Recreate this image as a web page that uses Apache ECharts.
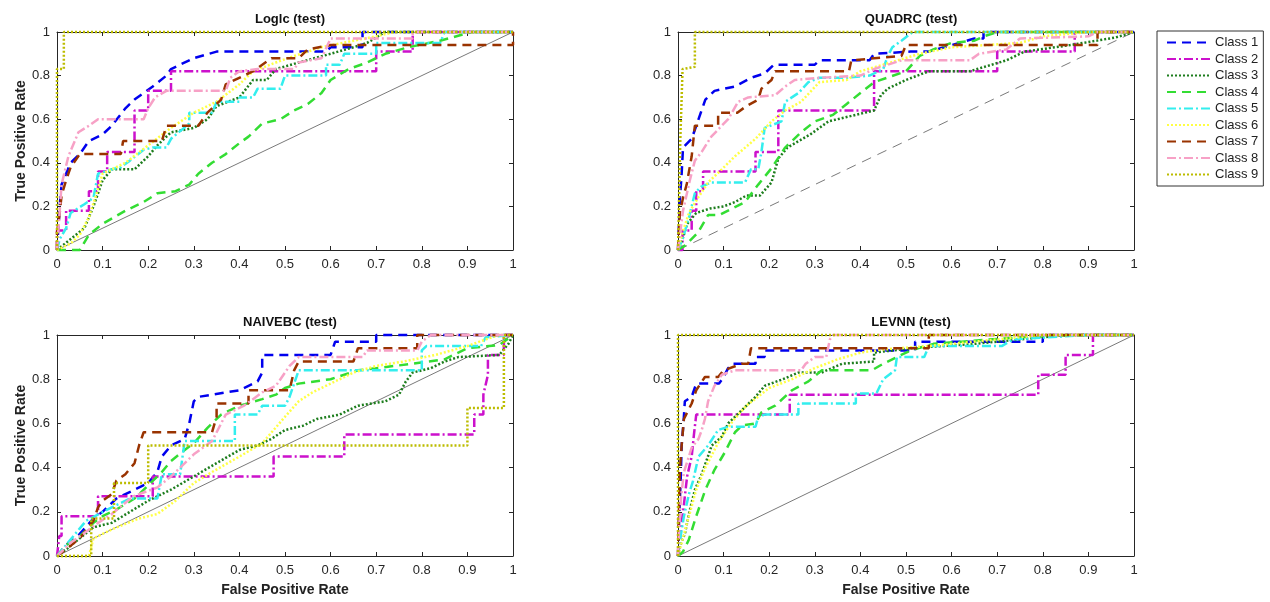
<!DOCTYPE html>
<html>
<head>
<meta charset="utf-8">
<script src="https://cdn.jsdelivr.net/npm/echarts@6/dist/echarts.min.js"></script>
<style>
  html, body { margin: 0; padding: 0; background: #fff; }
  #rocChart { width: 1270px; height: 602px; }
</style>
</head>
<body>
<div id="rocChart"></div>
<script>
// ROC curves: [false positive rate, true positive rate]
var classNames = ['Class 1', 'Class 2', 'Class 3', 'Class 4', 'Class 5', 'Class 6', 'Class 7', 'Class 8', 'Class 9'];
var plotTitles = ['Loglc (test)', 'QUADRC (test)', 'NAIVEBC (test)', 'LEVNN (test)'];
var xTicks = [0, 0.1, 0.2, 0.3, 0.4, 0.5, 0.6, 0.7, 0.8, 0.9, 1];
var yTicks = [0, 0.2, 0.4, 0.6, 0.8, 1];
var chanceLine = [[0, 0], [1, 1]];

var loglcCurves = [
    [[0,0],[0.003,0.1],[0.006,0.2],[0.01,0.3],[0.02,0.35],[0.03,0.4],[0.05,0.44],[0.07,0.5],[0.1,0.53],[0.12,0.57],[0.15,0.65],[0.17,0.69],[0.19,0.72],[0.21,0.75],[0.24,0.8],[0.25,0.83],[0.27,0.85],[0.3,0.88],[0.35,0.91],[0.59,0.91],[0.6,0.93],[0.67,0.93],[0.67,1],[1,1]],
    [[0,0],[0,0.09],[0.02,0.09],[0.02,0.18],[0.07,0.18],[0.07,0.27],[0.09,0.27],[0.09,0.36],[0.11,0.36],[0.11,0.45],[0.17,0.45],[0.17,0.64],[0.2,0.64],[0.2,0.73],[0.25,0.73],[0.25,0.82],[0.7,0.82],[0.7,0.91],[0.78,0.91],[0.78,1],[1,1]],
    [[0,0],[0.03,0.05],[0.06,0.1],[0.08,0.2],[0.1,0.32],[0.12,0.37],[0.17,0.37],[0.2,0.43],[0.22,0.48],[0.25,0.54],[0.3,0.56],[0.33,0.6],[0.35,0.66],[0.4,0.7],[0.43,0.78],[0.46,0.78],[0.48,0.83],[0.53,0.86],[0.6,0.9],[0.65,0.93],[0.68,0.95],[0.72,1],[1,1]],
    [[0,0],[0.05,0],[0.07,0.07],[0.1,0.12],[0.15,0.18],[0.19,0.22],[0.22,0.26],[0.26,0.27],[0.29,0.3],[0.31,0.35],[0.34,0.4],[0.37,0.44],[0.4,0.49],[0.42,0.52],[0.45,0.58],[0.49,0.6],[0.52,0.64],[0.55,0.67],[0.58,0.72],[0.6,0.78],[0.64,0.83],[0.68,0.86],[0.72,0.9],[0.77,0.93],[0.84,0.96],[0.91,1],[1,1]],
    [[0,0],[0.006,0.05],[0.02,0.1],[0.03,0.17],[0.06,0.21],[0.08,0.24],[0.09,0.35],[0.12,0.37],[0.14,0.38],[0.16,0.41],[0.19,0.46],[0.21,0.47],[0.24,0.47],[0.25,0.51],[0.29,0.58],[0.29,0.63],[0.34,0.63],[0.35,0.68],[0.4,0.68],[0.4,0.7],[0.43,0.7],[0.44,0.74],[0.49,0.74],[0.5,0.8],[0.59,0.8],[0.59,0.85],[0.62,0.85],[0.63,0.9],[0.7,0.9],[0.7,0.95],[0.84,0.95],[0.85,1],[1,1]],
    [[0,0],[0.03,0.03],[0.05,0.07],[0.07,0.15],[0.09,0.28],[0.1,0.35],[0.15,0.4],[0.2,0.48],[0.25,0.56],[0.3,0.63],[0.35,0.68],[0.4,0.76],[0.43,0.82],[0.48,0.86],[0.52,0.89],[0.58,0.93],[0.65,0.96],[0.7,0.98],[0.74,1],[1,1]],
    [[0,0],[0,0.08],[0.006,0.17],[0.01,0.25],[0.02,0.32],[0.03,0.38],[0.05,0.44],[0.14,0.44],[0.145,0.5],[0.23,0.5],[0.24,0.57],[0.31,0.57],[0.33,0.63],[0.36,0.69],[0.37,0.76],[0.43,0.82],[0.47,0.88],[0.53,0.88],[0.55,0.92],[0.6,0.94],[1,0.94],[1,1]],
    [[0,0],[0.005,0.15],[0.01,0.3],[0.025,0.43],[0.047,0.54],[0.07,0.57],[0.09,0.6],[0.19,0.6],[0.2,0.65],[0.215,0.7],[0.24,0.73],[0.37,0.73],[0.38,0.79],[0.4,0.82],[0.44,0.83],[0.52,0.83],[0.53,0.86],[0.58,0.88],[0.6,0.97],[0.78,0.97],[0.78,1],[1,1]],
    [[0,0],[0,0.83],[0.015,0.83],[0.015,1],[1,1]]
];

var quadrcCurves = [
    [[0,0],[0.004,0.23],[0.008,0.35],[0.011,0.47],[0.03,0.51],[0.04,0.57],[0.05,0.63],[0.06,0.69],[0.08,0.73],[0.125,0.75],[0.16,0.79],[0.19,0.81],[0.21,0.85],[0.3,0.85],[0.31,0.87],[0.42,0.87],[0.43,0.9],[0.51,0.91],[0.55,0.91],[0.6,0.94],[0.65,0.97],[0.67,0.97],[0.67,1],[1,1]],
    [[0,0],[0.01,0],[0.01,0.09],[0.03,0.09],[0.03,0.18],[0.04,0.18],[0.04,0.27],[0.055,0.27],[0.055,0.36],[0.17,0.36],[0.17,0.45],[0.22,0.45],[0.22,0.64],[0.43,0.64],[0.43,0.82],[0.7,0.82],[0.7,0.91],[0.87,0.91],[0.87,1],[1,1]],
    [[0,0],[0.01,0.05],[0.02,0.12],[0.04,0.17],[0.07,0.19],[0.1,0.2],[0.125,0.22],[0.15,0.25],[0.18,0.25],[0.205,0.31],[0.22,0.42],[0.24,0.47],[0.29,0.53],[0.33,0.59],[0.37,0.61],[0.43,0.64],[0.445,0.71],[0.46,0.74],[0.5,0.78],[0.55,0.82],[0.64,0.82],[0.72,0.87],[0.76,0.91],[0.86,0.94],[0.96,0.975],[1,1]],
    [[0,0],[0.015,0.02],[0.044,0.08],[0.066,0.16],[0.09,0.16],[0.147,0.22],[0.176,0.3],[0.205,0.375],[0.235,0.47],[0.27,0.54],[0.3,0.59],[0.34,0.62],[0.37,0.67],[0.4,0.72],[0.43,0.77],[0.5,0.82],[0.53,0.89],[0.56,0.92],[0.6,0.95],[0.65,0.96],[0.67,0.98],[0.7,1],[1,1]],
    [[0,0],[0.01,0.05],[0.024,0.15],[0.037,0.26],[0.05,0.29],[0.073,0.31],[0.147,0.31],[0.16,0.37],[0.176,0.37],[0.183,0.45],[0.19,0.56],[0.227,0.59],[0.235,0.68],[0.264,0.72],[0.286,0.77],[0.31,0.79],[0.37,0.79],[0.42,0.8],[0.45,0.83],[0.46,0.89],[0.47,0.93],[0.49,0.96],[0.515,1],[1,1]],
    [[0,0],[0.01,0.08],[0.024,0.17],[0.044,0.24],[0.066,0.31],[0.096,0.37],[0.125,0.43],[0.17,0.51],[0.205,0.59],[0.235,0.64],[0.27,0.68],[0.31,0.77],[0.37,0.78],[0.4,0.82],[0.45,0.85],[0.53,0.9],[0.6,0.93],[0.75,0.95],[0.8,0.98],[0.9,1],[1,1]],
    [[0,0],[0.004,0.17],[0.011,0.24],[0.019,0.3],[0.03,0.43],[0.037,0.57],[0.088,0.57],[0.088,0.63],[0.13,0.63],[0.15,0.66],[0.176,0.69],[0.183,0.74],[0.205,0.78],[0.213,0.82],[0.375,0.82],[0.38,0.87],[0.49,0.89],[0.5,0.94],[0.92,0.94],[0.92,1],[1,1]],
    [[0,0],[0.011,0.18],[0.026,0.32],[0.037,0.41],[0.052,0.45],[0.073,0.52],[0.096,0.57],[0.11,0.6],[0.132,0.68],[0.154,0.7],[0.213,0.71],[0.235,0.75],[0.256,0.78],[0.31,0.79],[0.4,0.8],[0.43,0.83],[0.49,0.87],[0.64,0.87],[0.66,0.9],[0.72,0.92],[0.75,0.97],[0.9,0.98],[0.92,1],[1,1]],
    [[0,0],[0.005,0.5],[0.01,0.83],[0.037,0.84],[0.037,1],[1,1]]
];

var naivebcCurves = [
    [[0,0],[0.02,0.05],[0.05,0.1],[0.08,0.17],[0.1,0.2],[0.13,0.26],[0.17,0.3],[0.2,0.33],[0.22,0.38],[0.23,0.45],[0.25,0.5],[0.28,0.53],[0.29,0.6],[0.3,0.7],[0.31,0.72],[0.4,0.75],[0.44,0.79],[0.45,0.83],[0.45,0.91],[0.6,0.91],[0.61,0.97],[0.7,0.97],[0.7,1],[1,1]],
    [[0,0],[0.005,0.09],[0.01,0.09],[0.01,0.18],[0.09,0.18],[0.09,0.27],[0.21,0.27],[0.21,0.36],[0.475,0.36],[0.475,0.45],[0.63,0.45],[0.63,0.55],[0.915,0.55],[0.915,0.64],[0.935,0.64],[0.935,0.73],[0.945,0.82],[0.945,0.91],[0.98,0.91],[0.98,1],[1,1]],
    [[0,0],[0.02,0.03],[0.05,0.08],[0.08,0.13],[0.12,0.15],[0.16,0.2],[0.2,0.25],[0.25,0.3],[0.3,0.36],[0.35,0.42],[0.4,0.48],[0.44,0.5],[0.47,0.53],[0.5,0.57],[0.54,0.59],[0.57,0.62],[0.62,0.64],[0.66,0.68],[0.72,0.7],[0.75,0.73],[0.765,0.79],[0.78,0.83],[0.82,0.85],[0.85,0.88],[0.88,0.9],[0.97,0.91],[0.99,0.96],[1,1]],
    [[0,0],[0.02,0.05],[0.05,0.09],[0.08,0.15],[0.1,0.18],[0.13,0.21],[0.17,0.26],[0.2,0.32],[0.23,0.38],[0.25,0.43],[0.28,0.48],[0.3,0.51],[0.33,0.58],[0.36,0.64],[0.4,0.68],[0.45,0.71],[0.48,0.73],[0.5,0.76],[0.53,0.78],[0.6,0.8],[0.66,0.84],[0.7,0.85],[0.78,0.87],[0.85,0.89],[0.9,0.94],[0.97,0.955],[1,1]],
    [[0,0],[0.02,0.05],[0.04,0.1],[0.064,0.16],[0.12,0.22],[0.16,0.26],[0.22,0.26],[0.23,0.37],[0.27,0.37],[0.28,0.52],[0.39,0.52],[0.39,0.64],[0.44,0.64],[0.45,0.68],[0.5,0.68],[0.51,0.72],[0.53,0.84],[0.8,0.84],[0.8,0.93],[0.81,0.95],[0.93,0.95],[0.94,0.99],[1,1]],
    [[0,0],[0.07,0],[0.08,0.08],[0.12,0.12],[0.18,0.17],[0.22,0.19],[0.26,0.25],[0.3,0.33],[0.34,0.38],[0.4,0.45],[0.45,0.51],[0.5,0.63],[0.53,0.7],[0.56,0.74],[0.6,0.78],[0.65,0.83],[0.7,0.86],[0.76,0.88],[0.83,0.91],[0.9,0.95],[0.94,0.98],[0.97,1],[1,1]],
    [[0,0],[0.02,0.03],[0.05,0.08],[0.08,0.16],[0.09,0.22],[0.1,0.25],[0.12,0.28],[0.13,0.34],[0.15,0.37],[0.17,0.42],[0.18,0.5],[0.19,0.56],[0.34,0.56],[0.35,0.63],[0.35,0.69],[0.42,0.69],[0.42,0.75],[0.51,0.75],[0.52,0.84],[0.53,0.88],[0.65,0.88],[0.66,0.94],[0.79,0.94],[0.79,1],[1,1]],
    [[0,0],[0.03,0.06],[0.057,0.1],[0.09,0.15],[0.12,0.19],[0.167,0.27],[0.22,0.31],[0.25,0.36],[0.27,0.4],[0.3,0.46],[0.34,0.52],[0.37,0.64],[0.41,0.68],[0.45,0.74],[0.48,0.77],[0.51,0.86],[0.53,0.9],[0.67,0.9],[0.68,0.93],[0.79,0.93],[0.8,0.97],[0.82,1],[1,1]],
    [[0,0],[0.075,0],[0.075,0.17],[0.125,0.17],[0.125,0.33],[0.2,0.33],[0.2,0.5],[0.9,0.5],[0.9,0.67],[0.98,0.67],[0.98,1],[1,1]]
];

var levnnCurves = [
    [[0,0],[0.003,0.2],[0.006,0.35],[0.008,0.5],[0.012,0.6],[0.015,0.7],[0.03,0.72],[0.04,0.78],[0.09,0.78],[0.1,0.81],[0.11,0.85],[0.12,0.87],[0.17,0.87],[0.17,0.9],[0.19,0.9],[0.19,0.93],[0.52,0.93],[0.52,0.97],[0.8,0.97],[0.8,1],[1,1]],
    [[0,0],[0.005,0.09],[0.01,0.18],[0.015,0.27],[0.02,0.36],[0.03,0.45],[0.035,0.55],[0.04,0.64],[0.245,0.64],[0.245,0.73],[0.79,0.73],[0.79,0.82],[0.85,0.82],[0.85,0.91],[0.91,0.91],[0.91,1],[1,1]],
    [[0,0],[0.005,0.05],[0.015,0.1],[0.025,0.2],[0.037,0.3],[0.052,0.37],[0.074,0.5],[0.096,0.54],[0.11,0.6],[0.14,0.66],[0.17,0.72],[0.19,0.77],[0.23,0.8],[0.264,0.83],[0.315,0.83],[0.36,0.87],[0.43,0.88],[0.43,0.92],[0.51,0.94],[0.65,0.96],[0.75,0.98],[0.85,1],[1,1]],
    [[0,0],[0.011,0.02],[0.023,0.07],[0.04,0.18],[0.06,0.3],[0.08,0.39],[0.103,0.47],[0.125,0.56],[0.14,0.59],[0.17,0.6],[0.183,0.65],[0.213,0.68],[0.25,0.75],[0.286,0.79],[0.315,0.84],[0.425,0.84],[0.45,0.87],[0.51,0.93],[0.56,0.96],[0.75,0.99],[0.9,1],[1,1]],
    [[0,0],[0.005,0.08],[0.013,0.18],[0.024,0.28],[0.033,0.34],[0.045,0.45],[0.066,0.5],[0.088,0.57],[0.11,0.585],[0.17,0.585],[0.176,0.63],[0.19,0.64],[0.264,0.64],[0.264,0.69],[0.39,0.69],[0.39,0.735],[0.435,0.735],[0.45,0.8],[0.476,0.84],[0.48,0.9],[0.54,0.9],[0.55,0.95],[0.71,0.95],[0.735,0.98],[0.9,1],[1,1]],
    [[0,0],[0.02,0.15],[0.04,0.3],[0.06,0.4],[0.09,0.52],[0.12,0.61],[0.15,0.68],[0.2,0.76],[0.25,0.8],[0.3,0.85],[0.35,0.89],[0.4,0.92],[0.45,0.935],[0.55,0.95],[0.7,0.98],[0.8,1],[1,1]],
    [[0,0],[0.002,0.2],[0.004,0.39],[0.008,0.5],[0.013,0.62],[0.03,0.69],[0.04,0.75],[0.059,0.81],[0.088,0.81],[0.1,0.84],[0.14,0.87],[0.154,0.87],[0.16,0.94],[0.55,0.94],[0.55,1],[1,1]],
    [[0,0],[0.003,0.15],[0.007,0.27],[0.013,0.38],[0.03,0.49],[0.045,0.53],[0.052,0.57],[0.059,0.62],[0.066,0.7],[0.08,0.77],[0.096,0.82],[0.11,0.83],[0.125,0.84],[0.27,0.84],[0.28,0.87],[0.3,0.9],[0.325,0.9],[0.333,0.98],[0.34,1],[1,1]],
    [[0,0],[0,1],[1,1]]
];

var allCurves = [loglcCurves, quadrcCurves, naivebcCurves, levnnCurves];

// look of each class (MATLAB-like)
var classColors = ['#0000ee', '#cc11cc', '#1d7d1d', '#33dd33', '#33eeee', '#ffff44', '#993300', '#f7a1c6', '#bcbc00'];
var classDash = [[9, 6], [9, 3, 2, 3], [2, 2], [9, 6], [9, 3, 2, 3], [2, 2], [9, 6], [9, 3, 2, 3], [2, 2]];

var boxes = [
    {left: 57, top: 32, width: 456, height: 218},
    {left: 678, top: 32, width: 456, height: 218},
    {left: 57, top: 335, width: 456, height: 221},
    {left: 678, top: 335, width: 456, height: 221}
];

var fontFam = '"Liberation Sans", Arial, Helvetica, sans-serif';
var axisColor = '#262626';

var dom_chart = document.getElementById('rocChart');
var chart = echarts.init(dom_chart, null, {renderer: 'canvas'});

var grids = [], xAxes = [], yAxes = [], titles = [], series = [];

function tickText(list) {
    return function (v) {
        var r = Math.round(v * 10) / 10;
        return list.indexOf(r) >= 0 ? String(r) : '';
    };
}

boxes.forEach(function (b, i) {
    grids.push({left: b.left, top: b.top, width: b.width, height: b.height, containLabel: false});
    titles.push({
        text: plotTitles[i], left: b.left + b.width / 2, top: b.top - 24, textAlign: 'center',
        textStyle: {fontFamily: fontFam, fontSize: 13, fontWeight: 'bold', color: '#111'}
    });
    var line = {show: true, onZero: false, lineStyle: {color: axisColor, width: 1}};
    var tick = {show: true, inside: true, length: 4, lineStyle: {color: axisColor, width: 1}};
    // bottom + top x axes
    xAxes.push({
        gridIndex: i, type: 'value', min: 0, max: 1, interval: 0.1, position: 'bottom',
        axisLine: line, axisTick: tick, splitLine: {show: false},
        axisLabel: {color: axisColor, fontSize: 13, fontFamily: fontFam, margin: 8, formatter: tickText(xTicks)},
        name: i >= 2 ? 'False Positive Rate' : '', nameLocation: 'middle', nameGap: 27,
        nameTextStyle: {fontFamily: fontFam, fontSize: 14, fontWeight: 'bold', color: '#222'}
    });
    xAxes.push({
        gridIndex: i, type: 'value', min: 0, max: 1, interval: 0.1, position: 'top',
        axisLine: line, axisTick: tick, axisLabel: {show: false}, splitLine: {show: false}
    });
    // left + right y axes
    yAxes.push({
        gridIndex: i, type: 'value', min: 0, max: 1, interval: 0.2, position: 'left',
        axisLine: line, axisTick: tick, splitLine: {show: false},
        axisLabel: {color: axisColor, fontSize: 13, fontFamily: fontFam, margin: 7, formatter: tickText(yTicks)},
        name: (i % 2 === 0) ? 'True Positive Rate' : '', nameLocation: 'middle', nameGap: 29,
        nameTextStyle: {fontFamily: fontFam, fontSize: 14, fontWeight: 'bold', color: '#222'}
    });
    yAxes.push({
        gridIndex: i, type: 'value', min: 0, max: 1, interval: 0.2, position: 'right',
        axisLine: line, axisTick: tick, axisLabel: {show: false}, splitLine: {show: false}
    });

    // chance diagonal
    series.push({
        type: 'line', name: 'chance', xAxisIndex: i * 2, yAxisIndex: i * 2,
        data: chanceLine, symbol: 'none', silent: true, clip: false,
        lineStyle: {color: '#7a7a7a', width: 1, type: i === 1 ? [10, 7] : 'solid'},
        z: 1
    });
    allCurves[i].forEach(function (curve, k) {
        series.push({
            type: 'line', name: classNames[k], xAxisIndex: i * 2, yAxisIndex: i * 2,
            data: curve, symbol: 'none', clip: false,
            color: classColors[k],
            lineStyle: {color: classColors[k], width: 2.5, type: classDash[k]},
            z: 2 + k
        });
    });
});

chart.setOption(option = {
    backgroundColor: '#ffffff',
    animation: false,
    title: titles,
    grid: grids,
    xAxis: xAxes,
    yAxis: yAxes,
    legend: {
        data: classNames,
        orient: 'vertical',
        left: 1157, top: 31,
        itemWidth: 43, itemHeight: 14, itemGap: 3.5,
        padding: [5, 5, 5, 9],
        borderColor: '#333', borderWidth: 1,
        backgroundColor: '#fff',
        selectedMode: false,
        itemStyle: {opacity: 0},
        textStyle: {fontFamily: fontFam, fontSize: 13, color: '#222'}
    },
    series: series
});
</script>
</body>
</html>
